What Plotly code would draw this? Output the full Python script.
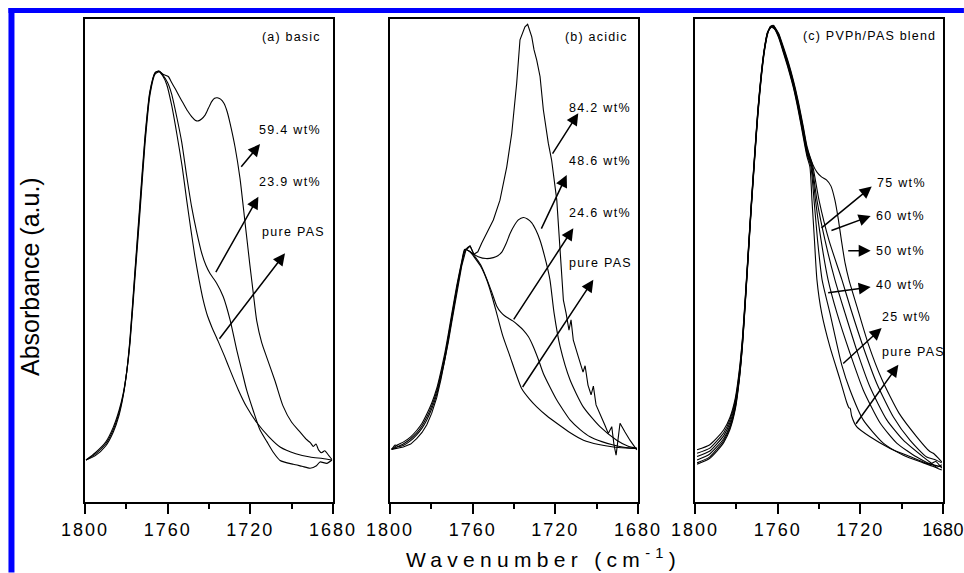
import plotly.graph_objects as go

FONT = "Liberation Sans, Arial, Helvetica, sans-serif"

# ---------------- tick labels ----------------
tick_vals = [1800, 1760, 1720, 1680]
tick_labels = ["1800", "1760", "1720", "1680"]
minor_vals = [1780, 1740, 1700]

# ---------------- panel (a) basic ----------------
a_pure_wn = [1799.5,1795.0,1790.0,1786.3,1783.5,1781.5,1779.8,1778.2,1775.8,1773.4,1771.0,1768.6,1766.1,1764.4,1762.5,1760.5,1758.0,1755.6,1753.0,1750.8,1748.8,1746.8,1744.8,1742.8,1740.7,1738.7,1735.5,1732.5,1729.8,1725.8,1721.8,1716.8,1711.0,1705.6,1698.0,1691.1,1685.0,1680.5]
a_pure_abs = [8.7,9.6,11.6,14.5,18.0,22.0,27.0,34.0,48.0,62.0,75.5,85.0,88.9,89.2,88.3,86.5,82.0,76.3,69.5,62.5,56.5,50.8,46.0,41.8,38.5,36.3,33.2,30.2,27.3,23.2,19.7,16.4,13.5,11.4,10.0,9.3,9.0,8.7]

a_239_wn = [1799.5,1795.0,1790.0,1786.3,1783.5,1781.5,1779.8,1778.2,1775.8,1773.4,1771.0,1768.6,1766.1,1764.2,1762.5,1760.0,1758.1,1755.5,1753.2,1750.8,1748.4,1746.0,1743.5,1741.5,1739.5,1736.3,1733.1,1729.8,1726.6,1724.0,1721.8,1718.5,1715.3,1712.0,1708.9,1705.6,1699.2,1695.0,1691.1,1688.0,1686.3,1683.0,1680.5]
a_239_abs = [8.7,9.9,12.0,15.0,18.5,22.2,27.0,33.5,47.4,61.1,74.9,84.7,88.8,89.2,88.5,86.8,84.5,79.5,74.5,67.5,61.1,56.0,51.5,49.0,47.3,45.3,42.5,37.7,31.5,27.0,23.2,18.8,14.9,12.5,10.3,8.6,7.8,7.4,7.0,7.5,8.3,8.0,8.7]

a_594_wn = [1799.5,1795.0,1790.0,1786.3,1783.5,1781.5,1779.8,1778.2,1775.8,1773.4,1771.0,1768.6,1766.1,1764.0,1762.0,1759.7,1758.0,1756.4,1754.4,1752.4,1750.4,1748.4,1746.5,1745.2,1743.6,1741.9,1740.3,1738.7,1737.3,1736.0,1734.4,1732.7,1731.2,1729.8,1727.4,1725.0,1722.6,1720.2,1718.5,1716.9,1714.5,1712.1,1708.0,1704.2,1700.0,1696.0,1693.0,1691.0,1689.5,1688.2,1687.0,1685.5,1684.0,1682.0,1680.5]
a_594_abs = [8.7,10.2,12.4,15.5,19.0,22.5,27.0,33.0,46.5,60.0,74.0,84.2,88.6,89.1,88.5,88.1,86.8,85.6,84.0,82.5,81.0,79.8,79.0,78.9,79.3,80.1,81.5,82.9,83.6,83.7,83.4,82.5,80.8,78.4,73.5,67.0,58.0,49.0,43.0,37.5,33.0,30.0,25.0,19.9,16.5,14.5,13.0,12.3,11.5,12.0,10.8,10.2,10.6,9.6,8.8]

a_labels = ["59.4 wt%", "23.9 wt%", "pure PAS"]
a_label_wn = [1716.8, 1716.8, 1715.3]
a_label_abs = [77.0, 66.3, 55.8]
a_tail_wn = [1725.0, 1737.1, 1735.5]
a_tail_abs = [69.1, 47.3, 33.5]
a_head_wn = [1715.3, 1716.1, 1703.2]
a_head_abs = [74.1, 63.2, 51.5]

# ---------------- panel (b) acidic ----------------
b_pure_wn = [1799.2,1796.5,1793.6,1790.0,1787.1,1784.5,1782.2,1779.8,1777.4,1775.4,1773.4,1771.7,1770.1,1767.7,1765.3,1763.9,1762.0,1760.5,1758.9,1756.0,1753.2,1750.8,1748.4,1745.5,1741.9,1739.0,1736.3,1732.5,1729.0,1724.0,1719.3,1713.0,1706.4,1699.0,1691.9,1686.0,1680.6]
b_pure_abs = [10.9,11.8,12.4,13.5,14.8,16.3,18.2,20.5,23.5,27.0,31.0,35.0,39.0,44.8,49.8,52.3,52.0,51.4,50.5,48.7,46.0,42.8,39.1,34.5,30.1,26.5,23.5,21.3,19.7,17.8,16.3,14.4,12.8,11.9,11.4,11.2,11.1]

b_246_wn = [1799.2,1796.5,1793.6,1790.0,1787.1,1784.5,1782.2,1779.8,1777.4,1775.4,1773.4,1771.7,1770.1,1767.7,1765.3,1763.7,1762.0,1760.5,1758.9,1756.0,1753.2,1750.8,1748.4,1746.4,1744.4,1742.5,1740.6,1738.0,1735.5,1733.0,1730.7,1728.2,1725.8,1722.5,1719.3,1716.0,1712.9,1708.0,1703.2,1697.5,1691.9,1686.0,1680.6]
b_246_abs = [10.9,11.4,12.0,13.1,14.3,15.8,17.6,19.9,22.9,26.4,30.3,34.4,38.4,44.3,49.5,52.3,52.0,51.6,50.8,49.0,46.2,43.5,40.6,39.3,38.5,38.0,37.5,36.6,35.6,34.2,32.2,29.5,26.6,23.7,21.1,18.9,17.0,15.0,13.5,12.5,11.8,11.3,11.1]

b_486_wn = [1799.2,1797.5,1796.0,1793.6,1790.0,1787.1,1784.5,1782.2,1779.8,1777.4,1775.4,1773.4,1771.7,1770.1,1767.7,1765.3,1763.5,1761.3,1759.4,1757.3,1753.5,1750.0,1747.8,1745.8,1743.8,1741.9,1739.8,1737.9,1735.5,1733.5,1731.4,1729.4,1727.4,1724.5,1722.6,1720.6,1717.7,1712.9,1706.5,1698.4,1690.3,1685.0,1680.6]
b_486_abs = [10.9,11.8,11.5,11.7,12.7,13.9,15.3,17.0,19.3,22.3,25.8,29.7,33.8,37.8,43.8,49.2,52.2,53.0,51.3,50.8,50.4,50.6,51.0,51.8,53.5,55.6,57.3,58.4,58.9,58.6,57.8,56.3,54.2,49.7,46.0,39.1,32.2,25.3,19.7,15.6,12.8,11.6,11.1]

b_842_wn = [1799.2,1796.5,1793.6,1790.0,1787.1,1784.5,1782.2,1779.8,1777.4,1775.4,1773.4,1771.7,1770.1,1767.7,1765.3,1763.3,1761.3,1759.4,1757.5,1755.6,1753.2,1750.0,1746.8,1743.5,1741.1,1738.7,1737.1,1734.7,1733.4,1731.4,1730.3,1729.0,1727.4,1725.8,1723.4,1721.8,1719.3,1717.7,1716.1,1714.8,1713.4,1712.4,1711.3,1708.9,1706.6,1705.6,1704.2,1702.7,1701.6,1700.3,1698.4,1696.0,1694.4,1692.7,1691.6,1690.6,1689.7,1688.7,1686.3,1683.9,1680.6]
b_842_abs = [10.9,11.1,11.4,12.0,13.1,14.4,16.0,18.4,21.6,25.3,29.3,33.3,37.3,43.4,48.9,52.1,53.0,51.3,51.8,53.6,55.6,58.4,62.5,69.4,76.3,86.7,95.7,98.4,98.9,96.3,93.6,91.5,88.1,81.2,74.3,70.8,62.5,52.2,41.8,39.1,35.6,37.7,33.5,30.1,26.9,28.2,24.2,22.2,24.0,20.1,18.4,15.9,14.2,15.6,11.8,9.7,12.8,16.3,14.5,12.8,10.8]

b_labels = ["84.2 wt%", "48.6 wt%", "24.6 wt%", "pure PAS"]
b_label_wn = [1714.4, 1714.4, 1714.4, 1714.4]
b_label_abs = [81.5, 70.7, 59.9, 49.4]
b_tail_wn = [1721.8, 1727.1, 1740.6, 1736.3]
b_tail_abs = [71.8, 56.3, 37.5, 23.5]
b_head_wn = [1708.9, 1714.5, 1711.3, 1701.6]
b_head_abs = [80.5, 67.7, 56.7, 46.0]

# ---------------- panel (c) PVPh/PAS blend ----------------
c_pure_wn = [1799.0,1793.0,1789.5,1786.0,1783.1,1780.5,1778.5,1777.0,1775.6,1774.2,1772.8,1771.2,1769.6,1768.0,1766.3,1764.8,1763.6,1761.5,1759.5,1757.3,1754.8,1752.4,1750.0,1747.6,1745.8,1744.4,1743.4,1742.2,1741.0,1738.7,1734.7,1729.8,1726.5,1725.5,1724.9,1724.2,1721.8,1715.3,1705.6,1696.0,1687.9,1680.6]
c_pure_abs = [7.8,9.0,10.5,12.4,15.0,19.2,25.5,32.5,41.5,51.0,60.5,70.5,80.0,87.5,93.6,97.0,98.4,97.9,96.1,93.1,89.6,85.8,81.0,75.5,71.5,69.4,62.5,54.2,46.0,39.1,32.1,25.3,20.5,19.5,19.4,17.8,15.6,13.5,11.1,9.4,8.0,7.3]

c_25_wn = [1799.0,1793.0,1789.5,1786.0,1783.1,1780.5,1778.5,1777.0,1775.6,1774.2,1772.8,1771.2,1769.6,1768.0,1766.3,1764.8,1763.3,1761.5,1759.5,1757.3,1754.8,1752.4,1750.0,1747.6,1745.8,1743.9,1742.4,1740.7,1738.5,1734.7,1729.0,1725.0,1718.6,1708.9,1699.2,1689.5,1685.0,1680.6]
c_25_abs = [8.1,9.3,10.9,12.8,15.4,19.6,25.8,32.8,41.8,51.3,60.8,70.8,80.3,87.8,93.8,97.1,98.5,98.0,96.3,93.4,89.9,86.1,81.4,76.0,72.0,69.4,62.5,54.2,46.0,39.1,28.4,23.2,17.0,12.2,9.7,8.1,7.4,6.6]

c_40_wn = [1799.0,1793.0,1789.5,1786.0,1783.1,1780.5,1778.5,1777.0,1775.6,1774.2,1772.8,1771.2,1769.6,1768.0,1766.3,1764.8,1763.0,1761.5,1759.5,1757.3,1754.8,1752.4,1750.0,1747.6,1745.8,1743.6,1741.7,1739.0,1735.6,1731.3,1725.0,1718.6,1710.5,1702.4,1692.7,1686.0,1683.5,1680.6]
c_40_abs = [8.7,9.9,11.4,13.2,15.8,20.0,26.0,33.0,42.0,51.5,61.0,71.0,80.5,88.0,94.0,97.2,98.6,98.1,96.5,93.6,90.2,86.4,81.8,76.5,72.4,69.5,62.5,54.2,46.0,39.1,30.8,23.2,16.4,12.2,9.3,7.9,8.4,7.0]

c_50_wn = [1799.0,1793.0,1789.5,1786.0,1783.1,1780.5,1778.5,1777.0,1775.6,1774.2,1772.8,1771.2,1769.6,1768.0,1766.3,1764.8,1762.7,1761.5,1759.5,1757.3,1754.8,1752.4,1750.0,1747.6,1745.8,1743.4,1741.0,1737.1,1732.3,1727.4,1721.8,1715.3,1707.2,1699.2,1689.5,1685.5,1683.0,1680.6]
c_50_abs = [9.4,10.5,12.0,13.8,16.4,20.5,26.5,33.4,42.3,51.8,61.3,71.3,80.8,88.2,94.1,97.3,98.6,98.2,96.6,93.8,90.4,86.7,82.1,76.9,72.8,69.6,62.5,54.2,46.0,39.1,31.5,23.8,17.0,12.8,9.3,8.0,7.2,7.7]

c_60_wn = [1799.0,1793.0,1789.5,1786.0,1783.1,1780.5,1778.5,1777.0,1775.6,1774.2,1772.8,1771.2,1769.6,1768.0,1766.3,1764.8,1762.4,1761.5,1759.5,1757.3,1754.8,1752.4,1750.0,1747.6,1745.8,1743.1,1740.0,1735.2,1728.9,1724.5,1718.6,1712.1,1704.0,1696.0,1687.9,1684.0,1680.6]
c_60_abs = [10.1,11.1,12.6,14.4,17.0,21.0,27.0,33.8,42.6,52.0,61.5,71.5,81.0,88.4,94.2,97.3,98.7,98.3,96.8,94.0,90.7,87.0,82.5,77.3,73.2,69.7,62.5,54.2,46.0,39.8,32.1,24.6,17.6,12.8,9.3,8.8,8.1]

c_75_wn = [1799.0,1793.0,1789.5,1786.0,1783.1,1780.5,1778.5,1777.0,1775.6,1774.2,1772.8,1771.2,1769.6,1768.0,1766.3,1764.8,1762.0,1761.5,1759.5,1757.3,1754.8,1752.4,1750.0,1747.6,1745.8,1742.9,1741.0,1738.8,1736.4,1734.2,1732.3,1730.6,1729.1,1727.4,1725.5,1721.6,1716.3,1709.5,1701.3,1692.7,1686.5,1684.7,1682.5,1680.6]
c_75_abs = [10.8,11.8,13.2,15.0,17.5,21.5,27.5,34.2,43.0,52.3,61.8,71.8,81.2,88.5,94.3,97.4,98.7,98.4,97.0,94.3,91.0,87.3,82.9,77.7,73.6,69.8,68.3,67.3,66.7,65.4,62.5,58.4,54.0,49.5,46.0,40.4,32.9,25.3,18.4,13.5,10.5,10.1,9.2,8.3]

c_labels = ["75 wt%", "60 wt%", "50 wt%", "40 wt%", "25 wt%", "pure PAS"]
c_label_wn = [1713.0, 1713.5, 1713.5, 1713.5, 1710.3, 1710.3]
c_label_abs = [66.0, 59.2, 52.0, 44.9, 38.2, 31.1]
c_tail_wn = [1739.5, 1734.7, 1726.6, 1736.3, 1729.0, 1722.6]
c_tail_abs = [56.5, 56.1, 52.0, 43.3, 28.4, 15.9]
c_head_wn = [1714.5, 1715.0, 1715.0, 1715.0, 1709.7, 1701.6]
c_head_abs = [65.3, 59.2, 52.0, 44.5, 36.0, 28.4]

panel_titles = ["(a) basic", "(b) acidic", "(c) PVPh/PAS blend"]
title_wn = [1684.8, 1683.9, 1682.3]
title_abs = [96.3, 96.3, 96.5]


def spaced(text, px):
    return '<span style="letter-spacing:%spx">%s</span>' % (px, text)


fig = go.Figure()

panels = [
    ("x", "y", [(a_pure_wn, a_pure_abs, "pure PAS", "spline"),
                (a_239_wn, a_239_abs, "23.9 wt%", "spline"),
                (a_594_wn, a_594_abs, "59.4 wt%", "spline")]),
    ("x2", "y2", [(b_pure_wn, b_pure_abs, "pure PAS", "spline"),
                  (b_246_wn, b_246_abs, "24.6 wt%", "spline"),
                  (b_486_wn, b_486_abs, "48.6 wt%", "spline"),
                  (b_842_wn, b_842_abs, "84.2 wt%", "linear")]),
    ("x3", "y3", [(c_pure_wn, c_pure_abs, "pure PAS", "spline"),
                  (c_25_wn, c_25_abs, "25 wt%", "spline"),
                  (c_40_wn, c_40_abs, "40 wt%", "spline"),
                  (c_50_wn, c_50_abs, "50 wt%", "spline"),
                  (c_60_wn, c_60_abs, "60 wt%", "spline"),
                  (c_75_wn, c_75_abs, "75 wt%", "spline")]),
]

for xa, ya, curves in panels:
    for wn, ab, name, shape in curves:
        line = dict(color="black", width=1.1, shape=shape)
        if shape == "spline":
            line["smoothing"] = 0.6
        fig.add_trace(go.Scatter(x=wn, y=ab, mode="lines", line=line,
                                 name=name, xaxis=xa, yaxis=ya,
                                 showlegend=False, hoverinfo="skip"))

annotations = []
label_sets = [
    ("x", "y", a_labels, a_label_wn, a_label_abs, a_tail_wn, a_tail_abs, a_head_wn, a_head_abs),
    ("x2", "y2", b_labels, b_label_wn, b_label_abs, b_tail_wn, b_tail_abs, b_head_wn, b_head_abs),
    ("x3", "y3", c_labels, c_label_wn, c_label_abs, c_tail_wn, c_tail_abs, c_head_wn, c_head_abs),
]
for i, (xa, ya, labs, lx, ly, tx, ty, hx, hy) in enumerate(label_sets):
    for k in range(len(labs)):
        annotations.append(dict(x=lx[k], y=ly[k], xref=xa, yref=ya, text=spaced(labs[k], 1.3),
                                showarrow=False, xanchor="left", yanchor="middle",
                                font=dict(family=FONT, size=12.5, color="black")))
        annotations.append(dict(x=hx[k], y=hy[k], ax=tx[k], ay=ty[k], xref=xa, yref=ya,
                                axref=xa, ayref=ya, text="", showarrow=True,
                                arrowhead=2, arrowsize=1.6, arrowwidth=1.5,
                                arrowcolor="black", standoff=0, startstandoff=0))
    annotations.append(dict(x=title_wn[i], y=title_abs[i], xref=xa, yref=ya,
                            text=spaced(panel_titles[i], 1.2), showarrow=False,
                            xanchor="right", yanchor="middle",
                            font=dict(family=FONT, size=12.5, color="black")))

# axis titles
annotations.append(dict(x=-0.0641, y=0.4658, xref="paper", yref="paper",
                        text="Absorbance (a.u.)", textangle=-90, showarrow=False,
                        xanchor="center", yanchor="middle",
                        font=dict(family=FONT, size=25, color="black")))
annotations.append(dict(x=0.5338, y=-0.1462, xref="paper", yref="paper",
                        text=spaced("Wavenumber (cm<sup>-1</sup>)", 5.3), showarrow=False,
                        xanchor="center", yanchor="bottom",
                        font=dict(family=FONT, size=21, color="black")))

xdomains = [[0.0, 0.28904], [0.35548, 0.64452], [0.71096, 1.0]]
# letter spacing of tick labels per panel (last panel's rightmost label kept inside the page)
tick_spacing = [[2, 2, 2, 2], [2, 2, 2, 2], [2, 2, 2, 0.4]]
layout = dict(
    width=964, height=573, autosize=False,
    margin=dict(l=85, r=21, t=19, b=71, pad=0),
    paper_bgcolor="white", plot_bgcolor="white",
    annotations=annotations,
    shapes=[
        dict(type="rect", xref="paper", yref="paper", x0=-0.0892, x1=-0.0822,
             y0=-0.146, y1=1.0228, fillcolor="#0000ff", line=dict(width=0), layer="above"),
        dict(type="rect", xref="paper", yref="paper", x0=-0.0892, x1=1.0244,
             y0=1.0124, y1=1.0228, fillcolor="#0000ff", line=dict(width=0), layer="above"),
    ],
)
for i in range(3):
    sx = "" if i == 0 else str(i + 1)
    layout["xaxis" + sx] = dict(
        domain=xdomains[i], range=[1800, 1680], anchor="y" + sx,
        showline=True, linecolor="black", linewidth=2, mirror=True,
        ticks="outside", ticklen=10, tickwidth=1.5, tickcolor="black",
        tickmode="array", tickvals=tick_vals,
        ticktext=[spaced(t, s) for t, s in zip(tick_labels, tick_spacing[i])],
        tickfont=dict(family=FONT, size=18, color="black"),
        ticklabeloverflow="allow",
        minor=dict(tickmode="array", tickvals=minor_vals, ticks="outside",
                   ticklen=5, tickwidth=1.5, tickcolor="black", showgrid=False),
        showgrid=False, zeroline=False, fixedrange=True, automargin=False,
    )
    layout["yaxis" + sx] = dict(
        domain=[0, 1], range=[0, 100], anchor="x" + sx,
        showline=True, linecolor="black", linewidth=2, mirror=True,
        ticks="", showticklabels=False, showgrid=False, zeroline=False,
        fixedrange=True, automargin=False,
    )
fig.update_layout(**layout)
fig.write_html("out.html", config={"responsive": False, "displayModeBar": False})
